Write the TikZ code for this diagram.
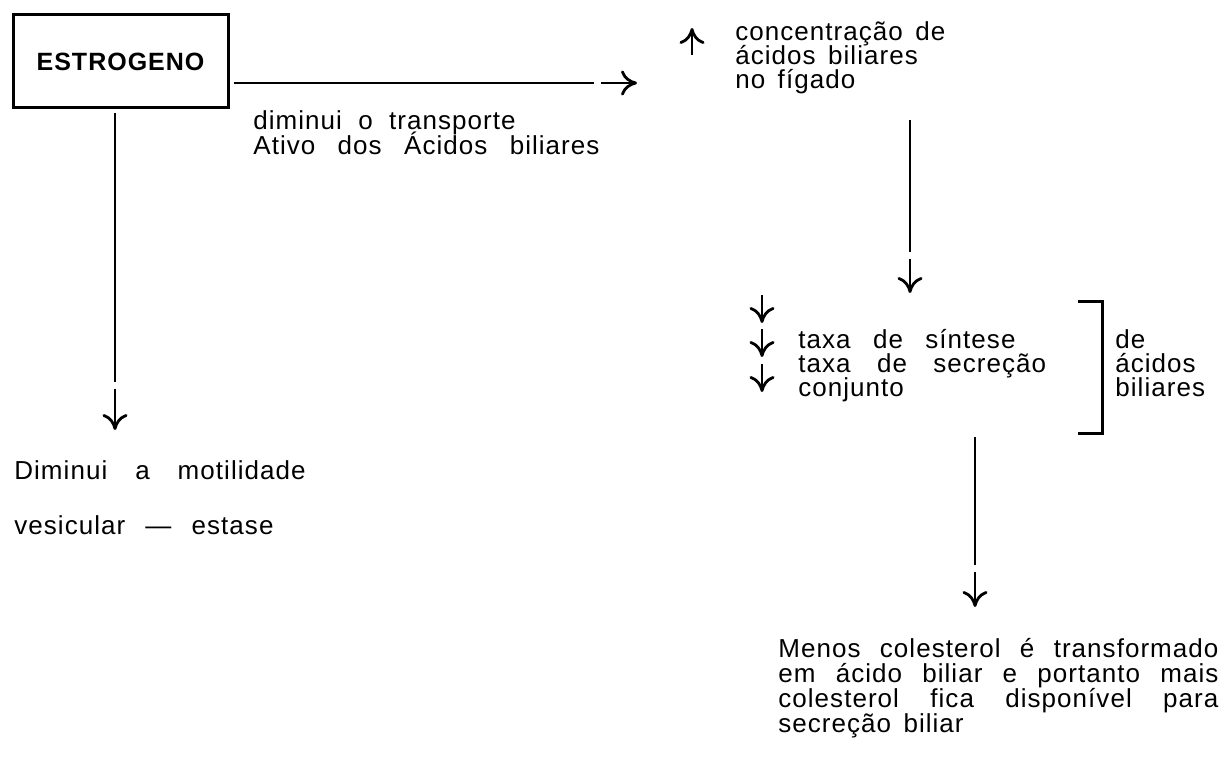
\documentclass[tikz,border=0pt]{standalone}
\usepackage{fontspec}
\setmainfont{Liberation Sans}[LetterSpace=4,WordSpace=1.5]
\usetikzlibrary{arrows.meta}
\hyphenpenalty=10000
\tolerance=9999
\newcommand\tightlines{\lineskiplimit=-20pt\lineskip=0pt\relax}

\begin{document}
\begin{tikzpicture}[x=0.5pt,y=-0.5pt,
  txt/.style={anchor=north west,inner sep=0pt,align=left,
    font=\fontsize{13}{12}\selectfont\tightlines},
  arr/.style={line width=1.4pt,-{To[length=8pt,width=12.5pt]}},
  gapped/.style={dash pattern=on #1 off 3.5pt on 100pt}]
\useasboundingbox (0,0) rectangle (1224,759);
\node[draw,line width=1.5pt,minimum width=107.5pt,minimum height=46.5pt,inner sep=0pt,
  font=\bfseries\fontsize{12.5}{13}\selectfont] (estro) at (120.5,61.5) {ESTROGENO};
\node[txt] (conc) at (735,21) {concentração de\\ácidos biliares\\no fígado};
\node[txt,font=\fontsize{13}{12.5}\selectfont\tightlines] (dimtr) at (253,110)
  {diminui\hspace{2pt} o\hspace{2pt} transporte\\Ativo\hspace{5pt} dos\hspace{5pt} Ácidos\hspace{5pt} biliares};
\node[txt] (taxa) at (798,329)
  {taxa\hspace{5pt} de\hspace{5pt} síntese\\taxa\hspace{7pt} de\hspace{7pt} secreção\\conjunto};
\node[txt] (acid) at (1115,329) {de\\ácidos\\biliares};
\node[txt] (motil) at (14,460)
  {Diminui\hspace{.6em} a\hspace{.6em} motilidade\\[15.5pt]vesicular\hspace{.3em} ---\hspace{.3em} estase};
\node[txt,align=justify,text width=220pt,font=\fontsize{13}{12.5}\selectfont\tightlines] (menos) at (778,638)
  {Menos colesterol é transformado em ácido biliar e portanto mais colesterol fica disponível para secreção biliar};

% arrow ends
\coordinate (hend) at (637,83);
\coordinate (ltip) at (115,430);
\coordinate (vtip) at (910,293);
\coordinate (btip) at (975,607);
\coordinate (brktop) at (1102,301);
\coordinate (brkbot) at (1102,433);

\draw[arr,gapped=180pt,shorten <=2pt] (estro.east |- hend) -- (hend);
\draw[arr,gapped=134pt,shorten <=2pt] (estro.south -| ltip) -- (ltip);
\draw[arr,gapped=66pt,shorten <=13pt] (vtip |- conc.south) -- (vtip);
\draw[arr,gapped=64pt,shorten <=2pt] (btip |- brkbot) -- (btip);

% bracket
\draw[line width=1.5pt] ([xshift=-12pt]brktop) -- (brktop) -- (brkbot) -- ([xshift=-12pt]brkbot);

% up / down marks
\draw[arr] (692,55) -- (692,28);
\foreach \y in {295,329,364} \draw[arr] (762,\y) -- (762,\y+28);
\end{tikzpicture}
\end{document}
